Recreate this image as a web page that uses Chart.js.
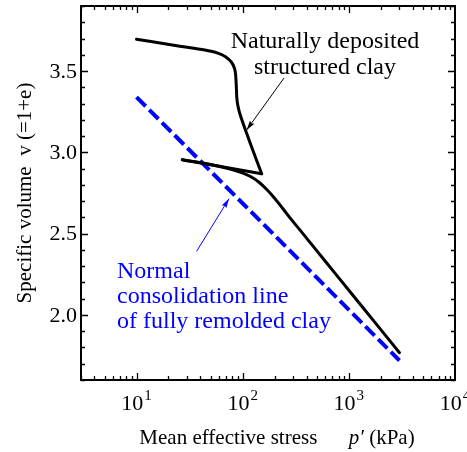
<!DOCTYPE html>
<html>
<head>
<meta charset="utf-8">
<script src="https://cdn.jsdelivr.net/npm/chart.js@4.4.1/dist/chart.umd.min.js"></script>
<style>
  html, body { margin: 0; padding: 0; background: #fff; }
  #wrap { width: 467px; height: 452px; }
</style>
</head>
<body>
<div id="wrap"><canvas id="chart" width="467" height="452"></canvas></div>
<script>
// naturally deposited structured clay - first loading
const loadP = [10, 25.6, 44.1, 58.5, 69.6, 77.6, 82.8, 85.7, 86.5, 87.0, 88.0, 90.3, 94.3, 100.6, 108.6, 118.5, 133.5, 151];
const loadV = [3.696, 3.653, 3.629, 3.610, 3.586, 3.558, 3.525, 3.482, 3.445, 3.414, 3.340, 3.285, 3.236, 3.181, 3.120, 3.052, 2.960, 2.868];
// unloading
const unloadP = [151, 27];
const unloadV = [2.868, 2.955];
// reloading
const reloadP = [27, 61, 79.3, 97.9, 119.7, 142.5, 169.5, 201.7, 239.9, 285.6, 347.2, 600, 1000, 1700, 3000];
const reloadV = [2.955, 2.913, 2.8945, 2.8755, 2.8497, 2.816, 2.770, 2.715, 2.653, 2.589, 2.5215, 2.330, 2.152, 1.9665, 1.768];

// normal consolidation line of fully remolded clay
const nclP = [10, 3000];
const nclV = [3.34, 1.72];

// axes
const xMajor = [10, 100, 1000, 10000];
const xMajorExp = ['1', '2', '3', '4'];
const yMajor = [2.0, 2.5, 3.0, 3.5];

const SERIF = '"Liberation Serif", "Times New Roman", serif';

const toPts = (xs, ys) => xs.map((x, i) => ({ x: x, y: ys[i] }));

function arrow(ctx, x1, y1, x2, y2, color, head) {
    const a = Math.atan2(y2 - y1, x2 - x1);
    ctx.save();
    ctx.strokeStyle = color;
    ctx.fillStyle = color;
    ctx.lineWidth = 1;
    ctx.beginPath();
    ctx.moveTo(x1, y1);
    ctx.lineTo(x2, y2);
    ctx.stroke();
    ctx.beginPath();
    ctx.moveTo(x2, y2);
    ctx.lineTo(x2 - head * Math.cos(a - 0.28), y2 - head * Math.sin(a - 0.28));
    ctx.lineTo(x2 - head * 0.8 * Math.cos(a), y2 - head * 0.8 * Math.sin(a));
    ctx.lineTo(x2 - head * Math.cos(a + 0.28), y2 - head * Math.sin(a + 0.28));
    ctx.closePath();
    ctx.fill();
    ctx.restore();
}

const axesPlugin = {
    id: 'axesPlugin',
    afterDraw(chart) {
        const ctx = chart.ctx;
        const xs = chart.scales.x, ys = chart.scales.y;
        const a = chart.chartArea;
        ctx.save();

        // frame
        ctx.strokeStyle = '#000';
        ctx.lineWidth = 2;
        ctx.strokeRect(a.left, a.top, a.right - a.left, a.bottom - a.top);

        // x ticks (inside, bottom and top)
        ctx.lineWidth = 1.3;
        ctx.beginPath();
        for (let d = 1; d <= 1000; d *= 10) {
            for (let k = 1; k <= 9; k++) {
                const v = k * d;
                if (v < xs.min || v > xs.max) continue;
                const px = Math.round(xs.getPixelForValue(v)) + 0.5;
                const len = k === 1 ? 7 : 4;
                ctx.moveTo(px, a.bottom); ctx.lineTo(px, a.bottom - len);
                ctx.moveTo(px, a.top); ctx.lineTo(px, a.top + len);
            }
        }
        // y ticks (inside, left and right)
        for (let i = 16; i <= 39; i++) {
            const v = i / 10;
            const py = Math.round(ys.getPixelForValue(v)) + 0.5;
            const len = i % 5 === 0 ? 7 : 4;
            ctx.moveTo(a.left, py); ctx.lineTo(a.left + len, py);
            ctx.moveTo(a.right, py); ctx.lineTo(a.right - len, py);
        }
        ctx.stroke();

        // y tick labels
        ctx.fillStyle = '#000';
        ctx.font = '22px ' + SERIF;
        ctx.textAlign = 'right';
        ctx.textBaseline = 'middle';
        yMajor.forEach(v => ctx.fillText(v.toFixed(1), a.left - 4, ys.getPixelForValue(v) + 1));

        // x tick labels 10^n
        ctx.textBaseline = 'alphabetic';
        ctx.textAlign = 'left';
        xMajor.forEach((v, i) => {
            const px = xs.getPixelForValue(v);
            ctx.font = '22px ' + SERIF;
            const w1 = ctx.measureText('10').width;
            ctx.font = '15px ' + SERIF;
            const w2 = ctx.measureText(xMajorExp[i]).width;
            const x0 = px - (w1 + w2 + 1) / 2;
            ctx.font = '22px ' + SERIF;
            ctx.fillText('10', x0, 410);
            ctx.font = '15px ' + SERIF;
            ctx.fillText(xMajorExp[i], x0 + w1 + 1, 400);
        });

        // x title
        const parts = [
            ['Mean effective stress      ', '21px ' + SERIF],
            ['p\u2032', 'italic 21px ' + SERIF],
            [' (kPa)', '21px ' + SERIF]
        ];
        let tw = 0;
        parts.forEach(p => { ctx.font = p[1]; tw += ctx.measureText(p[0]).width; });
        let cx = 277 - tw / 2;
        parts.forEach(p => { ctx.font = p[1]; ctx.fillText(p[0], cx, 444); cx += ctx.measureText(p[0]).width; });

        // y title (rotated)
        ctx.save();
        ctx.translate(31, 193);
        ctx.rotate(-Math.PI / 2);
        ctx.font = '21px ' + SERIF;
        ctx.textAlign = 'center';
        ctx.fillText('Specific volume  v (=1+e)', 0, 0);
        ctx.restore();

        // annotations
        ctx.font = '24px ' + SERIF;
        ctx.textAlign = 'center';
        ctx.fillStyle = '#000';
        ctx.fillText('Naturally deposited', 325, 48);
        ctx.fillText('structured clay', 325, 74);
        arrow(ctx, xs.getPixelForValue(245), ys.getPixelForValue(3.457),
              xs.getPixelForValue(109), ys.getPixelForValue(3.138), '#000', 10);

        ctx.fillStyle = '#0000ff';
        ctx.textAlign = 'left';
        ctx.fillText('Normal', 117, 278);
        ctx.fillText('consolidation line', 117, 303);
        ctx.fillText('of fully remolded clay', 117, 328);
        arrow(ctx, xs.getPixelForValue(36.8), ys.getPixelForValue(2.391),
              xs.getPixelForValue(74.3), ys.getPixelForValue(2.715), '#0000ff', 10);

        ctx.restore();
    }
};

const blackLine = {
    borderColor: '#000000',
    borderWidth: 3,
    pointRadius: 0,
    borderCapStyle: 'round',
    borderJoinStyle: 'round',
    cubicInterpolationMode: 'monotone',
    fill: false
};

new Chart(document.getElementById('chart').getContext('2d'), {
    type: 'line',
    data: {
        datasets: [
            Object.assign({ data: toPts(loadP, loadV) }, blackLine),
            Object.assign({ data: toPts(unloadP, unloadV) }, blackLine, { cubicInterpolationMode: 'default', tension: 0 }),
            Object.assign({ data: toPts(reloadP, reloadV) }, blackLine),
            {
                data: toPts(nclP, nclV),
                borderColor: '#0000ff',
                borderWidth: 4,
                borderDash: [13, 5],
                pointRadius: 0,
                tension: 0,
                fill: false
            }
        ]
    },
    options: {
        responsive: false,
        animation: false,
        layout: { padding: { left: 81, top: 6, right: 12, bottom: 72 } },
        plugins: { legend: { display: false }, tooltip: { enabled: false } },
        scales: {
            x: { type: 'logarithmic', min: 3, max: 10000, display: false },
            y: { type: 'linear', min: 1.6, max: 3.9, display: false }
        }
    },
    plugins: [axesPlugin]
});
</script>
</body>
</html>
